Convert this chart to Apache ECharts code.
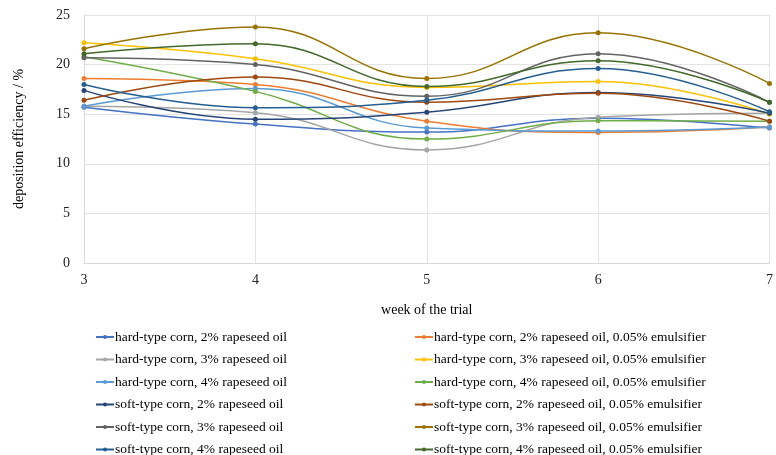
<!DOCTYPE html>
<html>
<head>
<meta charset="utf-8">
<script src="https://cdn.jsdelivr.net/npm/echarts@6/dist/echarts.min.js"></script>
<style>
  html, body { margin: 0; padding: 0; background: #fff; }
  #chart { width: 776px; height: 455px; }
</style>
</head>
<body>
<div id="chart"></div>
<script>
var weeks = [3, 4, 5, 6, 7];

var names = [
    'hard-type corn, 2% rapeseed oil',
    'hard-type corn, 2% rapeseed oil, 0.05% emulsifier',
    'hard-type corn, 3% rapeseed oil',
    'hard-type corn, 3% rapeseed oil, 0.05% emulsifier',
    'hard-type corn, 4% rapeseed oil',
    'hard-type corn, 4% rapeseed oil, 0.05% emulsifier',
    'soft-type corn, 2% rapeseed oil',
    'soft-type corn, 2% rapeseed oil, 0.05% emulsifier',
    'soft-type corn, 3% rapeseed oil',
    'soft-type corn, 3% rapeseed oil, 0.05% emulsifier',
    'soft-type corn, 4% rapeseed oil',
    'soft-type corn, 4% rapeseed oil, 0.05% emulsifier'
];

var hard2 = [15.7, 14.0, 13.2, 14.6, 13.6];
var hard2e = [18.6, 18.0, 14.3, 13.15, 13.7];
var hard3 = [15.8, 15.15, 11.4, 14.7, 15.1];
var hard3e = [22.2, 20.6, 17.7, 18.3, 15.0];
var hard4 = [15.8, 17.6, 13.6, 13.3, 13.7];
var hard4e = [20.8, 17.3, 12.5, 14.35, 14.3];
var soft2 = [17.4, 14.5, 15.2, 17.2, 15.1];
var soft2e = [16.4, 18.75, 16.2, 17.1, 14.3];
var soft3 = [20.7, 20.0, 16.8, 21.1, 16.2];
var soft3e = [21.6, 23.8, 18.6, 23.2, 18.1];
var soft4 = [18.0, 15.65, 16.4, 19.6, 15.25];
var soft4e = [21.1, 22.1, 17.8, 20.4, 16.2];

var allValues = [hard2, hard2e, hard3, hard3e, hard4, hard4e,
                 soft2, soft2e, soft3, soft3e, soft4, soft4e];

var colors = ['#4472C4', '#ED7D31', '#A5A5A5', '#FFC000', '#5B9BD5', '#70AD47',
              '#264478', '#9E480E', '#636363', '#997300', '#255E91', '#43682B'];

var font = '"Liberation Serif", "Times New Roman", serif';

var series = [];
for (var i = 0; i < names.length; i++) {
    var data = [];
    for (var j = 0; j < weeks.length; j++) {
        data.push([weeks[j], allValues[i][j]]);
    }
    series.push({
        name: names[i],
        type: 'line',
        smooth: 0.45,
        symbol: 'circle',
        symbolSize: 5,
        data: data,
        itemStyle: {color: colors[i]},
        lineStyle: {color: colors[i], width: 1.5}
    });
}

// legend columns: left = plain oil, right = with emulsifier
var leftNames = names.filter(function(n, i) { return i % 2 == 0; });
var rightNames = names.filter(function(n, i) { return i % 2 == 1; });

var legendBase = {
    orient: 'vertical',
    top: 325,
    height: 130,
    itemGap: 8.5,
    itemWidth: 18,
    itemHeight: 5,
    textStyle: {fontFamily: font, fontSize: 13.5, color: '#000', padding: [0, 0, 0, -4]}
};

var myChart = echarts.init(document.getElementById('chart'));
myChart.setOption({
    animation: false,
    textStyle: {fontFamily: font},
    grid: {left: 84, right: 1, top: 15, bottom: 192},
    legend: [
        Object.assign({}, legendBase, {left: 90, data: leftNames}),
        Object.assign({}, legendBase, {left: 409, data: rightNames})
    ],
    xAxis: {
        type: 'value',
        min: 3,
        max: 7,
        interval: 1,
        name: 'week of the trial',
        nameLocation: 'middle',
        nameGap: 40,
        nameTextStyle: {fontFamily: font, fontSize: 14, color: '#000'},
        axisLine: {lineStyle: {color: '#d9d9d9'}},
        axisTick: {show: false},
        axisLabel: {fontFamily: font, fontSize: 14, color: '#222', margin: 10},
        splitLine: {show: true, lineStyle: {color: '#e3e3e3'}}
    },
    yAxis: {
        type: 'value',
        min: 0,
        max: 25,
        interval: 5,
        name: 'deposition efficiency / %',
        nameLocation: 'middle',
        nameGap: 58,
        nameTextStyle: {fontFamily: font, fontSize: 14, color: '#000'},
        axisLine: {show: true, lineStyle: {color: '#d9d9d9'}},
        axisTick: {show: false},
        axisLabel: {fontFamily: font, fontSize: 14, color: '#222', margin: 14},
        splitLine: {show: true, lineStyle: {color: '#e3e3e3'}}
    },
    series: series
});
</script>
</body>
</html>
